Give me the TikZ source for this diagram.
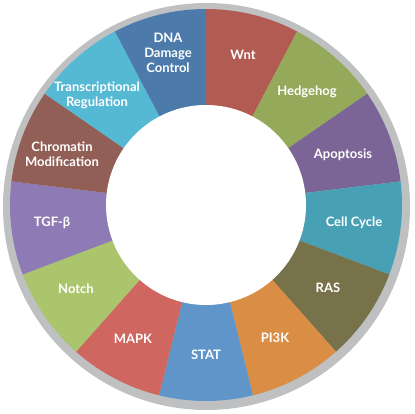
\documentclass[tikz,border=0pt]{standalone}
\usepackage{fontspec}
\setmainfont{Lato}
\definecolor{ringgray}{HTML}{BFC0C2}
\definecolor{cWnt}{HTML}{B15B53}
\definecolor{cHedge}{HTML}{95A95B}
\definecolor{cApop}{HTML}{7B6597}
\definecolor{cCell}{HTML}{48A0B4}
\definecolor{cRAS}{HTML}{77724A}
\definecolor{cPI}{HTML}{DA8D45}
\definecolor{cSTAT}{HTML}{5F95C9}
\definecolor{cMAPK}{HTML}{CF6660}
\definecolor{cNotch}{HTML}{ABC56D}
\definecolor{cTGF}{HTML}{8E7AB5}
\definecolor{cChrom}{HTML}{915F55}
\definecolor{cTrans}{HTML}{56B9D3}
\definecolor{cDNA}{HTML}{4C7BAB}
\begin{document}
\begin{tikzpicture}[x=1pt,y=1pt,
  lbl/.style={text=white,font=\bfseries\fontsize{13}{15}\selectfont,align=center,inner sep=0pt}]
\useasboundingbox (0,0) rectangle (415,413);
\fill[ringgray] (206.5,206.5) circle (203.5);
\coordinate (C) at (206,208);
\foreach \col [count=\k from 0] in {cWnt,cHedge,cApop,cCell,cRAS,cPI,cSTAT,cMAPK,cNotch,cTGF,cChrom,cTrans,cDNA}{
  \pgfmathsetmacro{\a}{90-360/13*\k}
  \pgfmathsetmacro{\b}{90-360/13*(\k+1)}
  \fill[\col] (C) -- ++(\a:196) arc[start angle=\a,end angle=\b,radius=196] -- cycle;
}
\fill[white] (C) circle (100);
\node[lbl] (wnt) at (243,358) {Wnt};
\node[lbl] (hedge) at (307,321) {Hedgehog};
\node[lbl] (apop) at (343,258) {Apoptosis};
\node[lbl] (cell) at (354,190) {Cell Cycle};
\node[lbl] (ras) at (328,125) {RAS};
\node[lbl] (pi) at (275,75) {PI3K};
\node[lbl] (stat) at (206,58) {STAT};
\node[lbl] (mapk) at (133,74) {MAPK};
\node[lbl] (notch) at (76,124) {Notch};
\node[lbl] (tgf) at (52,190) {TGF-β};
\node[lbl] (chrom) at (62,259) {Chromatin\\Modification};
\node[lbl] (trans) at (97,318) {Transcriptional\\Regulation};
\node[lbl] (dna) at (168,360) {DNA\\Damage\\Control};
\end{tikzpicture}
\end{document}
